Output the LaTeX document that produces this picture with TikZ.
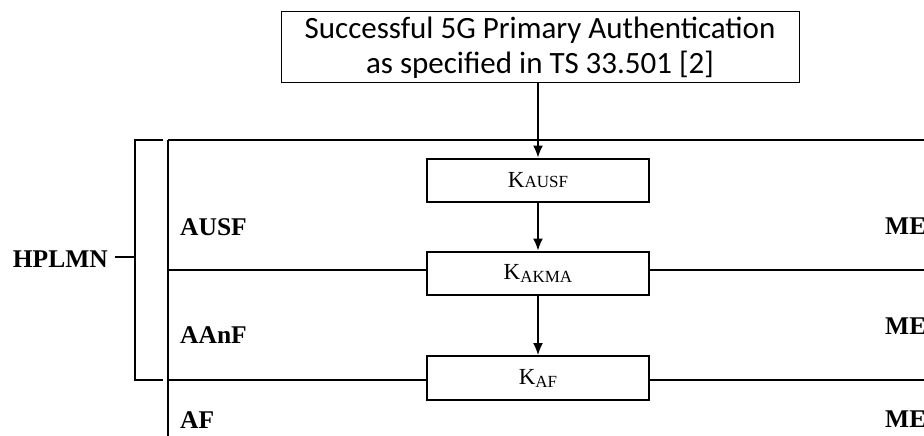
\documentclass[tikz,border=0pt]{standalone}
\usepackage{fontspec}
\setmainfont{Liberation Serif}
\newfontfamily\carlito{Carlito}
\usetikzlibrary{arrows.meta}
\tikzset{
  thinln/.style={line width=1.4pt},
  keybox/.style={draw, line width=2pt, minimum width=222pt, inner sep=0pt, font=\fontsize{23}{24}\selectfont},
  flow/.style={line width=1.4pt, -{Latex[length=12pt,width=10pt]}},
  lbl/.style={anchor=base west, inner sep=0pt, font=\bfseries\fontsize{25.5}{28}\selectfont},
}
\newcommand{\subt}[1]{{\fontsize{17}{18}\selectfont #1}}
\begin{document}
\begin{tikzpicture}[x=1pt,y=-1pt]
\useasboundingbox (0,0) rectangle (924,436);
\clip (0,0) rectangle (924,436);
% top box
\node[draw, line width=1pt, minimum width=518pt, minimum height=71pt, align=center, inner sep=0pt,
      font=\carlito\fontsize{31}{35}\selectfont] (top) at (540,47.5)
  {Successful 5G Primary Authentication\\as specified in TS 33.501 [2]};
% key boxes
\node[keybox, minimum height=43pt] (kausf) at (538,180) {K\subt{AUSF}};
\node[keybox, minimum height=43pt] (kakma) at (538,273) {K\raisebox{-3pt}{\subt{AKMA}}};
\node[keybox, minimum height=44pt] (kaf) at (538,378) {K\raisebox{-3pt}{\subt{AF}}};
% arrows
\draw[flow] (kausf.north |- top.south) -- (kausf.north);
\draw[flow] (kausf.south) -- (kakma.north);
\draw[flow] (kakma.south) -- (kaf.north);
% grid lines
\coordinate (tl) at (168,140);
\coordinate (tr) at (924,140);
\coordinate (bl) at (168,436);
\coordinate (ml) at (168,270);
\coordinate (mr) at (924,270);
\coordinate (ll) at (168,380);
\coordinate (lr) at (924,380);
\draw[thinln] (tl) -- (tr);
\draw[thinln] (tl) -- (bl);
\draw[thinln] (ml) -- (kakma.west |- ml);
\draw[thinln] (kakma.east |- mr) -- (mr);
\draw[thinln] (ll) -- (kaf.west |- ll);
\draw[thinln] (kaf.east |- lr) -- (lr);
% bracket
\coordinate (b1) at (163,140);
\coordinate (b2) at (135,140);
\coordinate (b3) at (135,380);
\coordinate (b4) at (163,380);
\coordinate (bt) at (135,257);
\coordinate (bt2) at (115,257);
\draw[thinln] (b1) -- (b2) -- (b3) -- (b4);
\draw[thinln] (bt) -- (bt2);
% labels
\node[anchor=base east, inner sep=0pt, font=\bfseries\fontsize{25.5}{28}\selectfont] (hplmn) at (108,267) {HPLMN};
\node[lbl] (ausf) at (180,235) {AUSF};
\node[lbl] (aanf) at (180,343) {AAnF};
\node[lbl] (af) at (180,428) {AF};
\node[lbl] (me1) at (885,234) {ME};
\node[lbl] (me2) at (885,334) {ME};
\node[lbl] (me3) at (885,427) {ME};
\end{tikzpicture}
\end{document}
